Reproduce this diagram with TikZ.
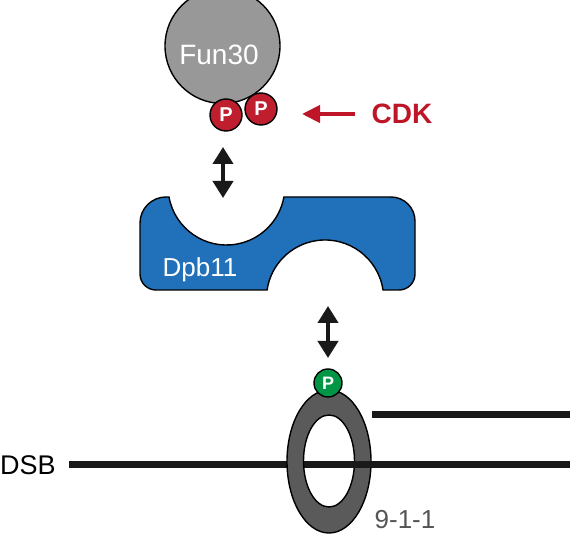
\documentclass[tikz,border=0pt]{standalone}
\usepackage{fontspec}
\setmainfont{Liberation Sans}
\usetikzlibrary{arrows.meta}
\definecolor{funGray}{RGB}{152,152,152}
\definecolor{pRed}{RGB}{190,30,45}
\definecolor{cdkRed}{RGB}{190,22,40}
\definecolor{dpbBlue}{RGB}{32,112,186}
\definecolor{pGreen}{RGB}{0,150,70}
\definecolor{ringGray}{RGB}{90,90,90}
\definecolor{labelGray}{RGB}{85,85,85}
\definecolor{lineBlack}{RGB}{25,25,25}
\begin{document}
\begin{tikzpicture}[x=1pt,y=-1pt,
  outl/.style={draw=black,line width=1.4pt},
  pdot/.style={circle,outl,inner sep=0pt,minimum size=32pt,fill=pRed,text=white,font=\fontsize{20}{20}\selectfont\bfseries},
  dbl/.style={{Triangle[width=20pt,length=17pt]}-{Triangle[width=20pt,length=17pt]},line width=4pt,draw=lineBlack},
  dna/.style={line width=7pt,draw=lineBlack},
  lbl/.style={anchor=base,inner sep=0pt},
]
\useasboundingbox (0,0) rectangle (570,534);
% Fun30
\begin{scope}
  \clip (0,0) rectangle (570,534);
  \node[circle,outl,fill=funGray,minimum size=115pt,inner sep=0pt] (fun) at (222.5,46) {};
\end{scope}
\node[lbl,text=white,font=\fontsize{28}{28}\selectfont] (funlabel) at (219,65) {Fun30};
\node[pdot] (p1) at (226,115) {P};
\node[pdot] (p2) at (261,109) {P};
% CDK
\node[lbl,text=cdkRed,font=\fontsize{28}{28}\selectfont\bfseries] (cdk) at (402,124) {CDK};
\coordinate (cdkTail) at (355,114);
\coordinate (cdkHead) at (302,114);
\draw[-{Triangle[width=17pt,length=18pt]},line width=4pt,draw=cdkRed] (cdkTail) -- (cdkHead);
% Dpb11
\path[outl,fill=dpbBlue] (169,197) arc(190.25:349.75:58.4pt) -- (391,197) arc(90:0:24pt)
  -- (415,274) arc(0:-90:16pt) -- (383,290) arc(8.43:171.57:58.6pt)
  -- (156,290) arc(270:180:16pt) -- (140,223) arc(180:90:26pt) -- cycle;
\node[lbl,text=white,font=\fontsize{26}{26}\selectfont] (dpb) at (200,277) {Dpb11};
% arrows
\coordinate (a1t) at (223,147);
\coordinate (a1b) at (223,198);
\draw[dbl] (a1t) -- (a1b);
\coordinate (a2t) at (328,306);
\coordinate (a2b) at (328,358);
\draw[dbl] (a2t) -- (a2b);
% DNA and ring
\coordinate (dsbL) at (69,464);
\coordinate (ringC) at (329,464);
\coordinate (ringIn) at (305,464);
\coordinate (dsbR) at (572,464);
\coordinate (ovhL) at (372,414);
\coordinate (ovhR) at (572,414);
\draw[dna] (dsbL) -- (ringC);
\path[outl,fill=ringGray,even odd rule] (329,461.5) ellipse[x radius=42pt,y radius=71.5pt]
  (329,461) ellipse[x radius=25.5pt,y radius=46pt];
\draw[dna] (ringIn) -- (dsbR);
\draw[dna] (ovhL) -- (ovhR);
\node[pdot,fill=pGreen,minimum size=28pt,font=\fontsize{18}{18}\selectfont\bfseries] (pg) at (328,383) {P};
\node[lbl,font=\fontsize{27}{27}\selectfont] (dsb) at (28,474) {DSB};
\node[lbl,text=labelGray,font=\fontsize{26}{26}\selectfont] (nine) at (405,528) {9-1-1};
\end{tikzpicture}
\end{document}
